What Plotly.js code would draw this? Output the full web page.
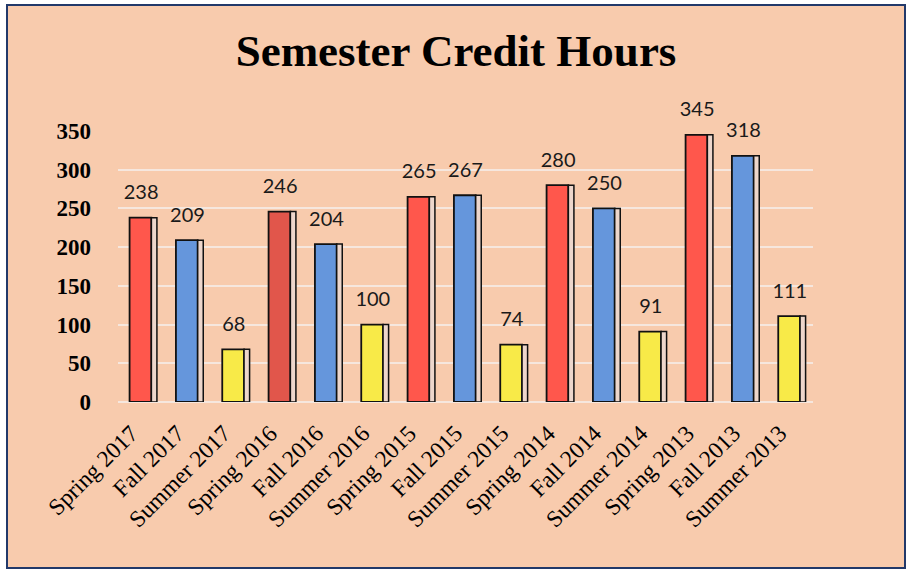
<!DOCTYPE html>
<html>
<head>
<meta charset="utf-8">
<script src="https://cdn.plot.ly/plotly-3.0.1.min.js"></script>
<style>
html,body{margin:0;padding:0;background:#ffffff;width:912px;height:569px;overflow:hidden;}
#frame{position:absolute;left:6px;top:4px;width:896px;height:561px;border:2px solid #22396A;background:#F8CBAD;}
#chart{width:896px;height:561px;}
</style>
</head>
<body>
<div id="frame"><div id="chart"></div></div>
<script>
const categories = ["Spring 2017","Fall 2017","Summer 2017","Spring 2016","Fall 2016","Summer 2016",
  "Spring 2015","Fall 2015","Summer 2015","Spring 2014","Fall 2014","Summer 2014",
  "Spring 2013","Fall 2013","Summer 2013"];
const creditHours = [238,209,68,246,204,100,265,267,74,280,250,91,345,318,111];
const barColors = ["#FF574C","#6596DC","#F8EA48","#E1564B","#6596DC","#F8EA48",
  "#FF574C","#6596DC","#F8EA48","#FF574C","#6596DC","#F8EA48",
  "#FF574C","#6596DC","#F8EA48"];
const yTicks = [0,50,100,150,200,250,300,350];

const front = {
  type: "bar", x: categories, y: creditHours,
  offset: -0.25, width: 0.47,
  marker: {color: barColors, line: {color: "#111111", width: 1.8}},
  hoverinfo: "x+y"
};
const side = {
  type: "bar", x: categories, y: creditHours,
  offset: 0.22, width: 0.12,
  marker: {color: "rgba(236,214,204,0.95)", line: {color: "#111111", width: 1.5}},
  hoverinfo: "skip"
};
const labels = {
  type: "scatter", mode: "markers+text", x: categories, y: creditHours,
  marker: {size: 20, opacity: 0},
  text: creditHours.map(String), textposition: "top center",
  textfont: {family: "Lato, 'Open Sans', sans-serif", size: 20, color: "#1a1a1a"},
  cliponaxis: false, hoverinfo: "skip"
};

const serif = "'Liberation Serif','Times New Roman',serif";
const layout = {
  width: 896, height: 561,
  paper_bgcolor: "#F8CBAD", plot_bgcolor: "rgba(0,0,0,0)",
  margin: {l: 110, r: 91, t: 125, b: 165},
  barmode: "overlay", showlegend: false,
  title: {text: "Semester Credit Hours", x: 0.5, xanchor: "center", y: 1 - 44/561, yanchor: "middle",
    font: {family: serif, size: 45, color: "#000000", weight: "bold"}},
  xaxis: {type: "category", range: [-0.5, 14.5], tickangle: -45, showgrid: false, showline: false, ticks: "",
    ticklabelstandoff: 12, ticklabelshift: -10,
    tickfont: {family: serif, size: 23.5, color: "#000000"}},
  yaxis: {range: [0, 350], tickvals: yTicks, showline: false, ticks: "",
    gridcolor: "#F6E7DE", gridwidth: 2, zeroline: true, zerolinecolor: "#F6E7DE", zerolinewidth: 2,
    ticklabelstandoff: 26,
    tickfont: {family: serif, size: 23, color: "#000000", weight: "bold"}}
};

Plotly.newPlot("chart", [front, side, labels], layout, {displayModeBar: false, staticPlot: true});
</script>
</body>
</html>
